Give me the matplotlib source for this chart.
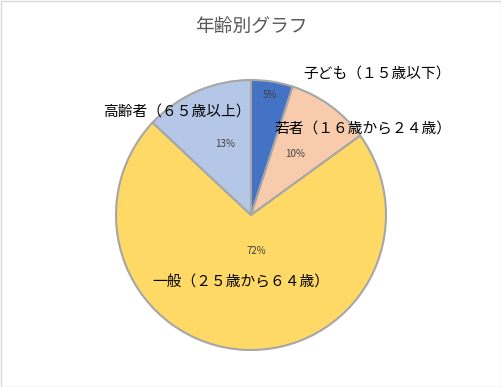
import numpy as np
import matplotlib
matplotlib.use("Agg")
import matplotlib.pyplot as plt
from matplotlib.patches import Rectangle

plt.rcParams['font.family'] = ['Noto Sans CJK JP', 'DejaVu Sans']

# データ
categories = ["子ども（１５歳以下）", "若者（１６歳から２４歳）", "一般（２５歳から６４歳）", "高齢者（６５歳以上）"]
values = [5, 10, 72, 13]
colors = ["#4472C4", "#F8CBAD", "#FFD966", "#B4C7E7"]
title = "年齢別グラフ"

W, H = 502, 387
cx, cy, r = 251, 215, 135  # pie centre / radius in pixels

fig = plt.figure(figsize=(W / 100, H / 100), dpi=100)
fig.patch.set_facecolor("white")
fig.patches.append(Rectangle((0.5 / W, 0.5 / H), 1 - 1.5 / W, 1 - 1.5 / H,
                             transform=fig.transFigure, fill=False,
                             edgecolor="#D9D9D9", linewidth=1))

ax = fig.add_axes([(cx - r) / W, (H - cy - r) / H, 2 * r / W, 2 * r / H])
wedges, _ = ax.pie(values, colors=colors, startangle=90, counterclock=False,
                   radius=1, wedgeprops=dict(edgecolor="#A6A6A6", linewidth=1.5,
                                             clip_on=False))
ax.set_xlim(-1, 1)
ax.set_ylim(-1, 1)
ax.set_axis_off()

# パーセント表示（扇の中央角から配置）
pct_dist = [0.9, 0.56, 0.27, 0.56]
pct_angle_shift = [0, 0, 12, -3]
for w, v, d, s in zip(wedges, values, pct_dist, pct_angle_shift):
    ang = np.deg2rad((w.theta1 + w.theta2) / 2 + s)
    ax.text(d * np.cos(ang), d * np.sin(ang), f"{v}%", ha="center", va="center",
            fontsize=7, color="#404040")

# カテゴリラベル
label_pos = [(377, 75), (363, 130), (241, 283), (177, 113)]
for name, (px, py) in zip(categories, label_pos):
    fig.text(px / W, 1 - py / H, name, ha="center", va="center",
             fontsize=10.6, color="#000000")

fig.text(251 / W, 1 - 27 / H, title, ha="center", va="center",
         fontsize=13.5, color="#595959")

fig.savefig("out.png", dpi=100)
